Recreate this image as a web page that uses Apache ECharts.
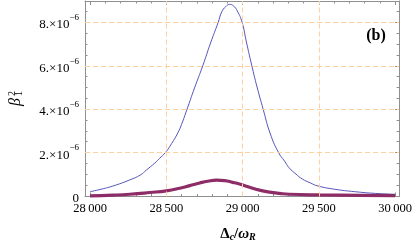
<!DOCTYPE html>
<html><head><meta charset="utf-8">
<script src="https://cdn.jsdelivr.net/npm/echarts@6/dist/echarts.min.js"></script>
<style>html,body{margin:0;padding:0;background:#fff}#c{width:415px;height:245px}</style>
</head><body><div id="c"></div>
<script>
// Data (y values in units of 1e-6)
const blueX = [28000,28065,28150,28260,28330,28370,28425,28455,28495,28535,28575,28600,28635,28685,28740,28790,28840,28863,28890,28915,28940,28965,28997,29025,29060,29095,29135,29180,29235,29275,29305,29350,29390,29445,29495,29605,29735,29870,30000];
const blueY = [0.20,0.30,0.46,0.74,0.97,1.20,1.52,1.73,2.01,2.42,2.90,3.30,3.98,4.98,6.02,7.05,8.00,8.48,8.73,8.83,8.76,8.53,8.00,7.10,6.02,5.02,4.00,2.90,2.01,1.61,1.30,1.01,0.79,0.60,0.46,0.31,0.20,0.12,0.08];
const purpleX = [28000,28150,28261,28392,28501,28588,28654,28719,28771,28830,28882,28935,28980,29046,29111,29176,29242,29307,29503,29765,30000];
const purpleY = [0.01,0.04,0.08,0.16,0.24,0.36,0.48,0.60,0.68,0.73,0.71,0.63,0.55,0.40,0.27,0.18,0.12,0.08,0.05,0.03,0.02];
const xTickValues = [28000,28500,29000,29500,30000];
const yTickValues = [0,2,4,6,8];
const xGridValues = [28500,29000,29500];
const yGridValues = [2,4,6,8];
const xDomain = [27967, 30026];
const yDomain = [-0.023, 8.986];
const panelLabel = '(b)';

const frameColor = '#8f8f8f';
const serif = '"Liberation Serif", "Times New Roman", serif';
const isTick = (v, list) => list.some(t => Math.abs(t - v) < 1e-6);

function fmtX(v) {
  if (!isTick(v, xTickValues)) return '';
  const s = String(Math.round(v));
  return s.slice(0, s.length - 3) + '\u2009' + s.slice(-3);
}
function fmtY(v) {
  if (!isTick(v, yTickValues)) return '';
  const r = Math.round(v);
  if (r === 0) return '{m|0}';
  return '{m|' + r + '.\u00d710}{e|\u22126}';
}

function xAxisCfg(pos, labels) {
  return {
    type: 'value', position: pos, min: xDomain[0], max: xDomain[1],
    axisLine: { show: true, onZero: false, lineStyle: { color: frameColor, width: 1 } },
    axisTick: { show: true, inside: true, length: 4, lineStyle: { color: frameColor } },
    minorTick: { show: true, splitNumber: 5, length: 2.5, lineStyle: { color: frameColor } },
    splitLine: { show: false }, minorSplitLine: { show: false },
    axisLabel: { show: labels, margin: 6, formatter: fmtX, color: '#000', fontFamily: serif, fontSize: 12.5 }
  };
}
function yAxisCfg(pos, labels) {
  return {
    type: 'value', position: pos, min: yDomain[0], max: yDomain[1],
    axisLine: { show: true, onZero: false, lineStyle: { color: frameColor, width: 1 } },
    axisTick: { show: true, inside: true, length: 4, lineStyle: { color: frameColor } },
    minorTick: { show: true, splitNumber: 4, length: 2.5, lineStyle: { color: frameColor } },
    splitLine: { show: false }, minorSplitLine: { show: false },
    axisLabel: {
      show: labels, margin: 6, formatter: fmtY, color: '#000', fontFamily: serif,
      rich: {
        m: { fontSize: 13, fontFamily: serif, lineHeight: 18, verticalAlign: 'bottom', color: '#000' },
        e: { fontSize: 9, fontFamily: serif, lineHeight: 9, verticalAlign: 'top', color: '#000' }
      }
    }
  };
}

const chart = echarts.init(document.getElementById('c'), null, { renderer: 'canvas' });
chart.setOption({
  animation: false,
  backgroundColor: '#fff',
  grid: { left: 85, right: 15, top: 1, bottom: 48.5, containLabel: false },
  xAxis: [xAxisCfg('bottom', true), xAxisCfg('top', false)],
  yAxis: [yAxisCfg('left', true), yAxisCfg('right', false)],
  series: [
    {
      type: 'line', data: [], z: 1, silent: true,
      markLine: {
        silent: true, symbol: ['none', 'none'], label: { show: false },
        lineStyle: { type: [5, 3], color: '#ffd1a0', width: 1 },
        data: xGridValues.map(v => ({ xAxis: v })).concat(yGridValues.map(v => ({ yAxis: v })))
      }
    },
    {
      type: 'line', z: 3, data: blueX.map((x, i) => [x, blueY[i]]), smooth: 0.5,
      showSymbol: false, lineStyle: { color: '#5656bd', width: 1 }
    },
    {
      type: 'line', z: 4, data: purpleX.map((x, i) => [x, purpleY[i]]), smooth: 0.5,
      showSymbol: false, lineStyle: { color: '#8e2c68', width: 3.2 }
    }
  ],
  graphic: [
    {
      type: 'text', x: 376, y: 36,
      style: { text: panelLabel, font: 'bold 16px ' + serif, fill: '#000', align: 'center', verticalAlign: 'middle', textAlign: 'center', textVerticalAlign: 'middle' }
    },
    {
      type: 'group', x: 16, y: 98, rotation: Math.PI / 2,
      children: [
        { type: 'text', x: -4, y: -0.5, style: { text: 'β', font: 'italic 16px ' + serif, fill: '#000', align: 'center', verticalAlign: 'middle', textAlign: 'center', textVerticalAlign: 'middle' } },
        { type: 'text', x: 4.5, y: -3.5, style: { text: '2', font: '10px ' + serif, fill: '#000', align: 'center', verticalAlign: 'middle', textAlign: 'center', textVerticalAlign: 'middle' } },
        { type: 'text', x: 4.5, y: 3.5, style: { text: '1', font: '10px ' + serif, fill: '#000', align: 'center', verticalAlign: 'middle', textAlign: 'center', textVerticalAlign: 'middle' } }
      ]
    },
    {
      type: 'text', x: 238, y: 233,
      style: {
        text: '{d|Δ}{s|c}{d|/}{w|ω}{s|R}',
        align: 'center', verticalAlign: 'middle', textAlign: 'center', textVerticalAlign: 'middle',
        rich: {
          d: { font: 'bold 15px ' + serif, lineHeight: 18, verticalAlign: 'bottom', fill: '#000' },
          w: { font: 'bold italic 15px ' + serif, lineHeight: 18, verticalAlign: 'bottom', fill: '#000' },
          s: { font: 'bold italic 10px ' + serif, lineHeight: 6, verticalAlign: 'bottom', fill: '#000' }
        }
      }
    }
  ]
});
</script>
</body></html>
